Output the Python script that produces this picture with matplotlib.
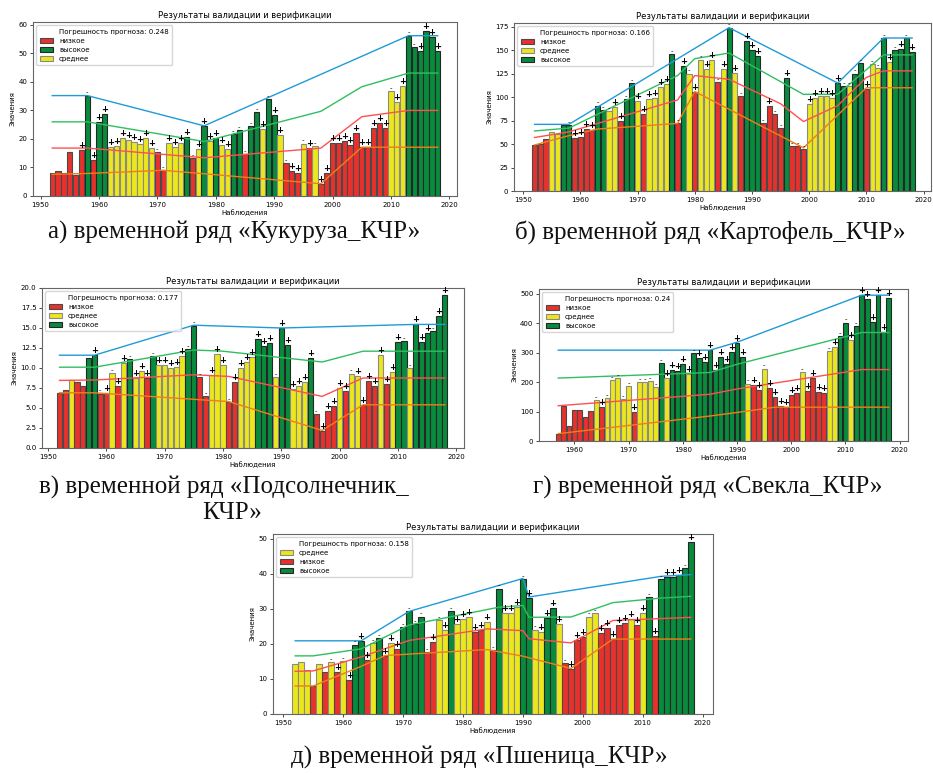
import matplotlib
matplotlib.use("Agg")
import matplotlib.pyplot as plt
from matplotlib.patches import Patch
from matplotlib.lines import Line2D
from matplotlib.ticker import MultipleLocator

plt.rcParams["font.family"] = ["DejaVu Sans"]

# ---- data -------------------------------------------------------------
# category per year: L = низкое, M = среднее, H = высокое ; sign "." = none
years_full = list(range(1952, 2019))
years_d = list(range(1957, 2019))

a_vals = [8.1, 8.6, 8.2, 15.4, 7.5, 16.2, 35.2, 12.6, 25.8, 28.9,
          17.3, 17.7, 20.5, 19.5, 18.9, 18.1, 20.5, 17.0, 15.5, 9.0,
          18.6, 17.2, 18.6, 20.8, 13.3, 16.6, 24.5, 19.3, 20.2, 18.0,
          16.4, 21.8, 23.2, 14.6, 24.6, 29.3, 23.5, 34.0, 28.5, 21.3,
          11.5, 8.7, 8.2, 18.4, 16.7, 17.5, 4.3, 7.9, 18.7, 18.7,
          19.4, 17.9, 22.2, 17.1, 17.2, 23.8, 25.5, 24.0, 36.8, 33.0,
          38.6, 56.2, 52.3, 51.0, 57.8, 55.7, 50.7]
a_cats = "LLLLLLHLHH MMMMMMMMLL MMMHLMHMHM MHHLHHMHHM LLLMLMLLLL LLLLLLLLMM MHHHHHH"
a_signs = ".....+-+++ ++++++++-- ++++-+++++ +-----+-++ -++-+-++++ ++++++++-+ +--++++"
a_blue = [[1952, 1958, 1978, 2013, 2018], [35.2, 35.2, 24.6, 56.2, 56.2]]
a_green = [[1952, 1958, 1978, 1998, 2005, 2013, 2018], [26.0, 26.0, 19.1, 29.7, 38.3, 43.1, 43.1]]
a_red = [[1952, 1958, 1978, 1998, 2005, 2013, 2018], [16.8, 16.8, 13.4, 16.8, 27.8, 30.0, 30.0]]
a_orange = [[1952, 1958, 1971, 1978, 1998, 2005, 2018], [7.6, 7.9, 9.0, 7.8, 4.3, 17.1, 17.1]]

b_vals = [49, 50, 55, 63, 61, 70, 70, 57, 58, 66,
          65, 91, 86, 85, 90, 75, 98, 115, 96, 82,
          98, 99, 111, 114, 146, 72, 133, 125, 106, 140,
          130, 140, 116, 130, 174, 126, 101, 160, 150, 144,
          72, 91, 82, 67, 120, 48, 48, 45, 93, 99,
          101, 101, 99, 115, 112, 112, 125, 136, 109, 135,
          131, 163, 137, 150, 151, 163, 148]
b_cats = "LLLMMHHLLL LHHMMLHHML MMMMHLHMLM MMLMHMLHHH LLLLHLLLMM MMMHHMHHLM MHMHHHH"
b_signs = "......-+++ +---++--++ ++++--+-+- ++-+-+-+++ -+--+---++ ++++----+- --+-+-+"
b_blue = [[1952, 1958, 1986, 2005, 2013, 2018], [71, 71, 174, 115, 163, 163]]
b_green = [[1952, 1958, 1977, 1980, 1986, 1999, 2005, 2013, 2018], [64, 67, 123, 141, 147, 103, 103, 145, 145]]
b_red = [[1952, 1958, 1977, 1980, 1986, 1995, 1999, 2005, 2010, 2013, 2018],
         [57, 63, 97, 123, 119, 93, 74, 91, 121, 128, 128]]
b_orange = [[1952, 1958, 1963, 1977, 1980, 1999, 2010, 2018], [49, 59, 66, 72, 106, 46, 110, 110]]

c_vals = [6.9, 7.3, 8.5, 8.3, 7.7, 11.3, 11.6, 6.8, 6.9, 9.4,
          7.7, 10.6, 11.1, 8.8, 9.6, 8.7, 11.5, 10.4, 10.4, 10.0,
          10.1, 11.5, 12.4, 15.3, 8.9, 6.5, 9.1, 11.8, 10.4, 5.7,
          8.3, 10.0, 10.8, 11.4, 13.6, 12.8, 13.1, 8.9, 15.0, 12.9,
          7.4, 7.8, 8.3, 11.3, 4.2, 2.1, 4.6, 5.2, 7.5, 7.1,
          9.3, 9.0, 5.4, 8.4, 7.8, 11.6, 8.0, 9.5, 13.3, 13.4,
          10.0, 15.5, 13.3, 14.4, 14.6, 16.5, 19.1]
c_cats = "LLMLLHHLLM LMHMMLHMMM MMHHLLMMML LMMMHHHMHH MMMHLLLLML MMLLLMLMHH MHHHHHH"
c_signs = "......+-+- ++-+++-+++ ++----+++- +++++++-++ ++++-+++++ -++++++++- -+++-++"
c_blue = [[1952, 1958, 1975, 1990, 2013, 2018], [11.6, 11.6, 15.35, 15.0, 15.45, 15.45]]
c_green = [[1952, 1958, 1975, 1980, 1997, 2004, 2018], [10.1, 10.1, 12.25, 12.1, 10.75, 12.1, 12.1]]
c_red = [[1952, 1958, 1975, 1981, 1997, 2004, 2018], [8.45, 8.5, 9.15, 8.95, 6.45, 8.75, 8.75]]
c_orange = [[1952, 1958, 1981, 1997, 2004, 2018], [6.9, 6.9, 5.8, 2.2, 5.4, 5.4]]

d_vals = [25, 118, 50, 105, 104, 82, 102, 140, 117, 145,
          208, 213, 143, 188, 100, 200, 200, 203, 184, 266,
          213, 242, 238, 263, 228, 300, 281, 270, 309, 240,
          286, 262, 302, 335, 286, 195, 189, 173, 246, 180,
          148, 120, 115, 157, 163, 234, 170, 214, 165, 162,
          305, 320, 358, 403, 345, 392, 497, 483, 404, 495,
          372, 488]
d_cats = "LLLLLLLMLM MMMMLMMMMH MHHHMHHHHH HHHHHMLLML LLLLLMLLLL MMHHMHHHHH HH"
d_signs = ".......-+- ----+----- +++++-++++ +++++-++-+ +++++-++++ -+--+-++++ ++"
d_blue = [[1957, 1985, 1990, 2013, 2018], [309, 309, 336, 496, 496]]
d_green = [[1957, 1985, 1990, 2013, 2018], [214, 233, 261, 369, 369]]
d_red = [[1957, 1985, 1990, 2013, 2018], [120, 159, 177, 243, 243]]
d_orange = [[1957, 1985, 1990, 1997, 2018], [25, 85, 97, 115, 115]]

e_vals = [14.3, 14.8, 12.5, 8.0, 14.2, 12.1, 14.8, 12.0, 15.0, 9.8,
          19.8, 20.9, 15.4, 20.3, 21.7, 16.7, 20.2, 18.6, 24.8, 29.3,
          25.6, 27.8, 17.6, 20.6, 26.8, 24.0, 29.4, 25.6, 27.1, 27.7,
          23.5, 24.0, 26.3, 18.2, 35.8, 28.9, 28.8, 30.6, 38.6, 33.2,
          24.1, 23.5, 27.5, 30.2, 25.7, 14.5, 12.9, 21.1, 21.9, 27.8,
          28.8, 23.0, 24.6, 21.5, 25.3, 26.1, 27.1, 25.3, 28.9, 33.4,
          22.3, 38.6, 39.2, 39.2, 39.8, 41.7, 49.0]
e_cats = "MMMLMLMLML HHLMHLMLHH HHLLMMHMMM LLMLHMMMHH MMHHMLLLLM MLLLLLMLMH LHHHHHH"
e_signs = "......-+-+ -++--+++-- ---+-+-+++ +++--+++-+ -++++-+++- -++++++++- +-+++-+"
e_blue = [[1952, 1963, 1971, 1990, 1991, 2013, 2018], [20.9, 20.9, 29.3, 38.7, 33.4, 39.3, 39.8]]
e_green = [[1952, 1955, 1963, 1971, 1986, 1990, 1991, 1998, 2005, 2013, 2018],
           [16.6, 16.6, 18.6, 25.4, 30.5, 31.0, 27.6, 27.7, 31.8, 33.1, 33.6]]
e_red = [[1952, 1955, 1963, 1971, 1984, 1990, 1991, 1998, 2005, 2018],
         [12.2, 12.3, 16.3, 21.0, 24.3, 23.8, 21.5, 20.3, 26.7, 27.6]]
e_orange = [[1952, 1955, 1963, 1967, 1971, 1984, 1990, 1998, 2005, 2018],
            [8.0, 8.0, 13.6, 16.7, 17.1, 18.4, 16.5, 13.0, 21.4, 21.4]]

errors = {"a": 0.248, "b": 0.166, "c": 0.177, "d": 0.24, "e": 0.158}

# ---- style ------------------------------------------------------------
FACE = {"L": "#e8312c", "M": "#ece71b", "H": "#088b3d"}
EDGE = {"L": "#4a4a4a", "M": "#8a8a8a", "H": "#262626"}
NAMES = {"L": "низкое", "M": "среднее", "H": "высокое"}
LINE_COLORS = ["#1f9bd7", "#2fbf60", "#ff5050", "#f07d18"]

W, H = 933, 773
fig = plt.figure(figsize=(W / 100, H / 100), dpi=100)
fig.patch.set_facecolor("white")


def panel(box, years, vals, cats, signs, lines, err, order, ylim, ystep, xlim=None):
    left, top, right, bottom = box
    ax = fig.add_axes([left / W, 1 - bottom / H, (right - left) / W, (bottom - top) / H])
    cats = cats.replace(" ", "")
    signs = signs.replace(" ", "")
    ax.bar(years, vals, width=0.9,
           color=[FACE[c] for c in cats],
           edgecolor=[EDGE[c] for c in cats],
           linewidth=0.8, zorder=2)
    for (lx, ly), col in zip(lines, LINE_COLORS):
        ax.plot(lx, ly, color=col, linewidth=1.0, zorder=3)
    for x, v, s in zip(years, vals, signs):
        if s == "+":
            ax.text(x, v, "+", ha="center", va="bottom", fontsize=6,
                    fontweight="bold", zorder=4)
        elif s == "-":
            ax.text(x, v, "-", ha="center", va="bottom", fontsize=5, zorder=4)

    ax.set_ylim(*ylim)
    ax.yaxis.set_major_locator(MultipleLocator(ystep))
    if xlim:
        ax.set_xlim(*xlim)
    ax.set_title("Результаты валидации и верификации", fontsize=6, pad=3)
    ax.set_xlabel("Наблюдения", fontsize=5, labelpad=1.5)
    ax.set_ylabel("Значения", fontsize=5, labelpad=2)
    ax.tick_params(labelsize=5, length=2.5, width=0.5, pad=1.5)
    for sp in ax.spines.values():
        sp.set_color("#666666")
        sp.set_linewidth(0.8)

    handles = [Line2D([], [], color="none")]
    labels = [f"Погрешность прогноза: {err}"]
    for k in order:
        handles.append(Patch(facecolor=FACE[k], edgecolor=EDGE[k], linewidth=0.8))
        labels.append(NAMES[k])
    ax.legend(handles, labels, loc="upper left", fontsize=5, handlelength=2.0,
              handleheight=0.8, labelspacing=0.45, borderpad=0.45)
    return ax


panel((33, 22, 457, 196), years_full, a_vals, a_cats, a_signs,
      [a_blue, a_green, a_red, a_orange], errors["a"], "LHM", (0, 61), 10, (1948.7, 2021.3))
panel((514, 23, 931, 191), years_full, b_vals, b_cats, b_signs,
      [b_blue, b_green, b_red, b_orange], errors["b"], "LMH", (0, 179), 25, (1948.4, 2021.3))
panel((42, 288, 464, 448), years_full, c_vals, c_cats, c_signs,
      [c_blue, c_green, c_red, c_orange], errors["c"], "LMH", (0, 20), 2.5, (1949.0, 2021.3))
panel((539, 289, 908, 441), years_d, d_vals, d_cats, d_signs,
      [d_blue, d_green, d_red, d_orange], errors["d"], "LMH", (0, 517), 100)
panel((273, 534, 713, 714), years_full, e_vals, e_cats, e_signs,
      [e_blue, e_green, e_red, e_orange], errors["e"], "MLH", (0, 51.4), 10, (1948.3, 2021.7))

cap = dict(family="Liberation Serif", fontsize=18, ha="center", va="center", color="#111111")
fig.text(234 / W, 1 - 232 / H, "а) временной ряд «Кукуруза_КЧР»", **cap)
fig.text(710 / W, 1 - 232 / H, "б) временной ряд «Картофель_КЧР»", **cap)
fig.text(224 / W, 1 - 487 / H, "в) временной ряд «Подсолнечник_", **cap)
fig.text(232 / W, 1 - 513 / H, "КЧР»", **cap)
fig.text(708 / W, 1 - 487 / H, "г) временной ряд «Свекла_КЧР»", **cap)
fig.text(479 / W, 1 - 757 / H, "д) временной ряд «Пшеница_КЧР»", **cap)

fig.savefig("out.png", dpi=100)
plt.close(fig)
